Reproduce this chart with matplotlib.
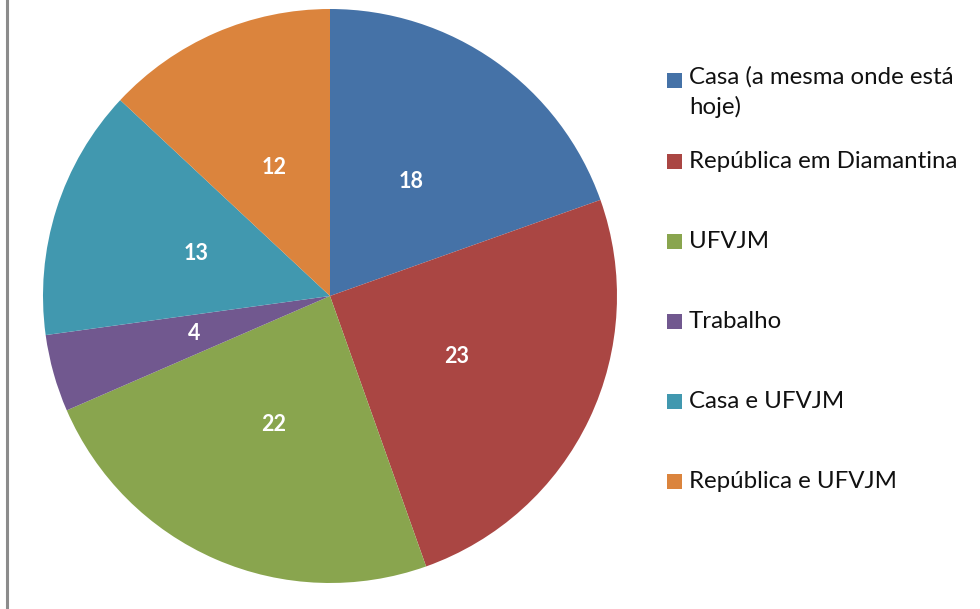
import matplotlib
matplotlib.use("Agg")
import matplotlib.pyplot as plt
from matplotlib.patches import Rectangle
from matplotlib.lines import Line2D

categories = ["Casa (a mesma onde está\nhoje)", "República em Diamantina", "UFVJM",
              "Trabalho", "Casa e UFVJM", "República e UFVJM"]
values = [18, 23, 22, 4, 13, 12]
colors = ["#4572A7", "#AA4643", "#89A54E", "#71588F", "#4198AF", "#DB843D"]

W, H = 980, 609
fig = plt.figure(figsize=(W / 100, H / 100), dpi=100)
fig.patch.set_facecolor("white")

cx, cy, r = 330, 296, 287
ax = fig.add_axes([(cx - r) / W, (H - cy - r) / H, 2 * r / W, 2 * r / H])
total = sum(values)
wedges, texts, autotexts = ax.pie(
    values, colors=colors, startangle=90, counterclock=False, radius=1,
    autopct=lambda p: f"{round(p * total / 100):d}", pctdistance=0.49,
    wedgeprops=dict(linewidth=0), textprops=dict(color="white", fontsize=15.5,
                                                 fontweight="bold", family="Lato"))
ax.set_xlim(-1, 1)
ax.set_ylim(-1, 1)
ax.set_aspect("equal")
ax.axis("off")

# legend drawn manually
ys = [80, 161, 241, 321, 401, 481]
for lab, col, y in zip(categories, colors, ys):
    fig.patches.append(Rectangle(((667) / W, (H - y - 7.5) / H), 15 / W, 15 / H,
                                 transform=fig.transFigure, facecolor=col, edgecolor="none"))
    t = fig.text(689 / W, (H - y) / H, lab, ha="left", va="center",
                 fontsize=17.3, family="Lato", color="#111111", linespacing=1.45)
    if "\n" in lab:
        t.set_va("top")
        t.set_y((H - y + 14) / H)

fig.add_artist(Line2D([7 / W, 7 / W], [0, 1], transform=fig.transFigure,
                      color="#8c8c8c", linewidth=2.2))

fig.savefig("out.png", dpi=100)
